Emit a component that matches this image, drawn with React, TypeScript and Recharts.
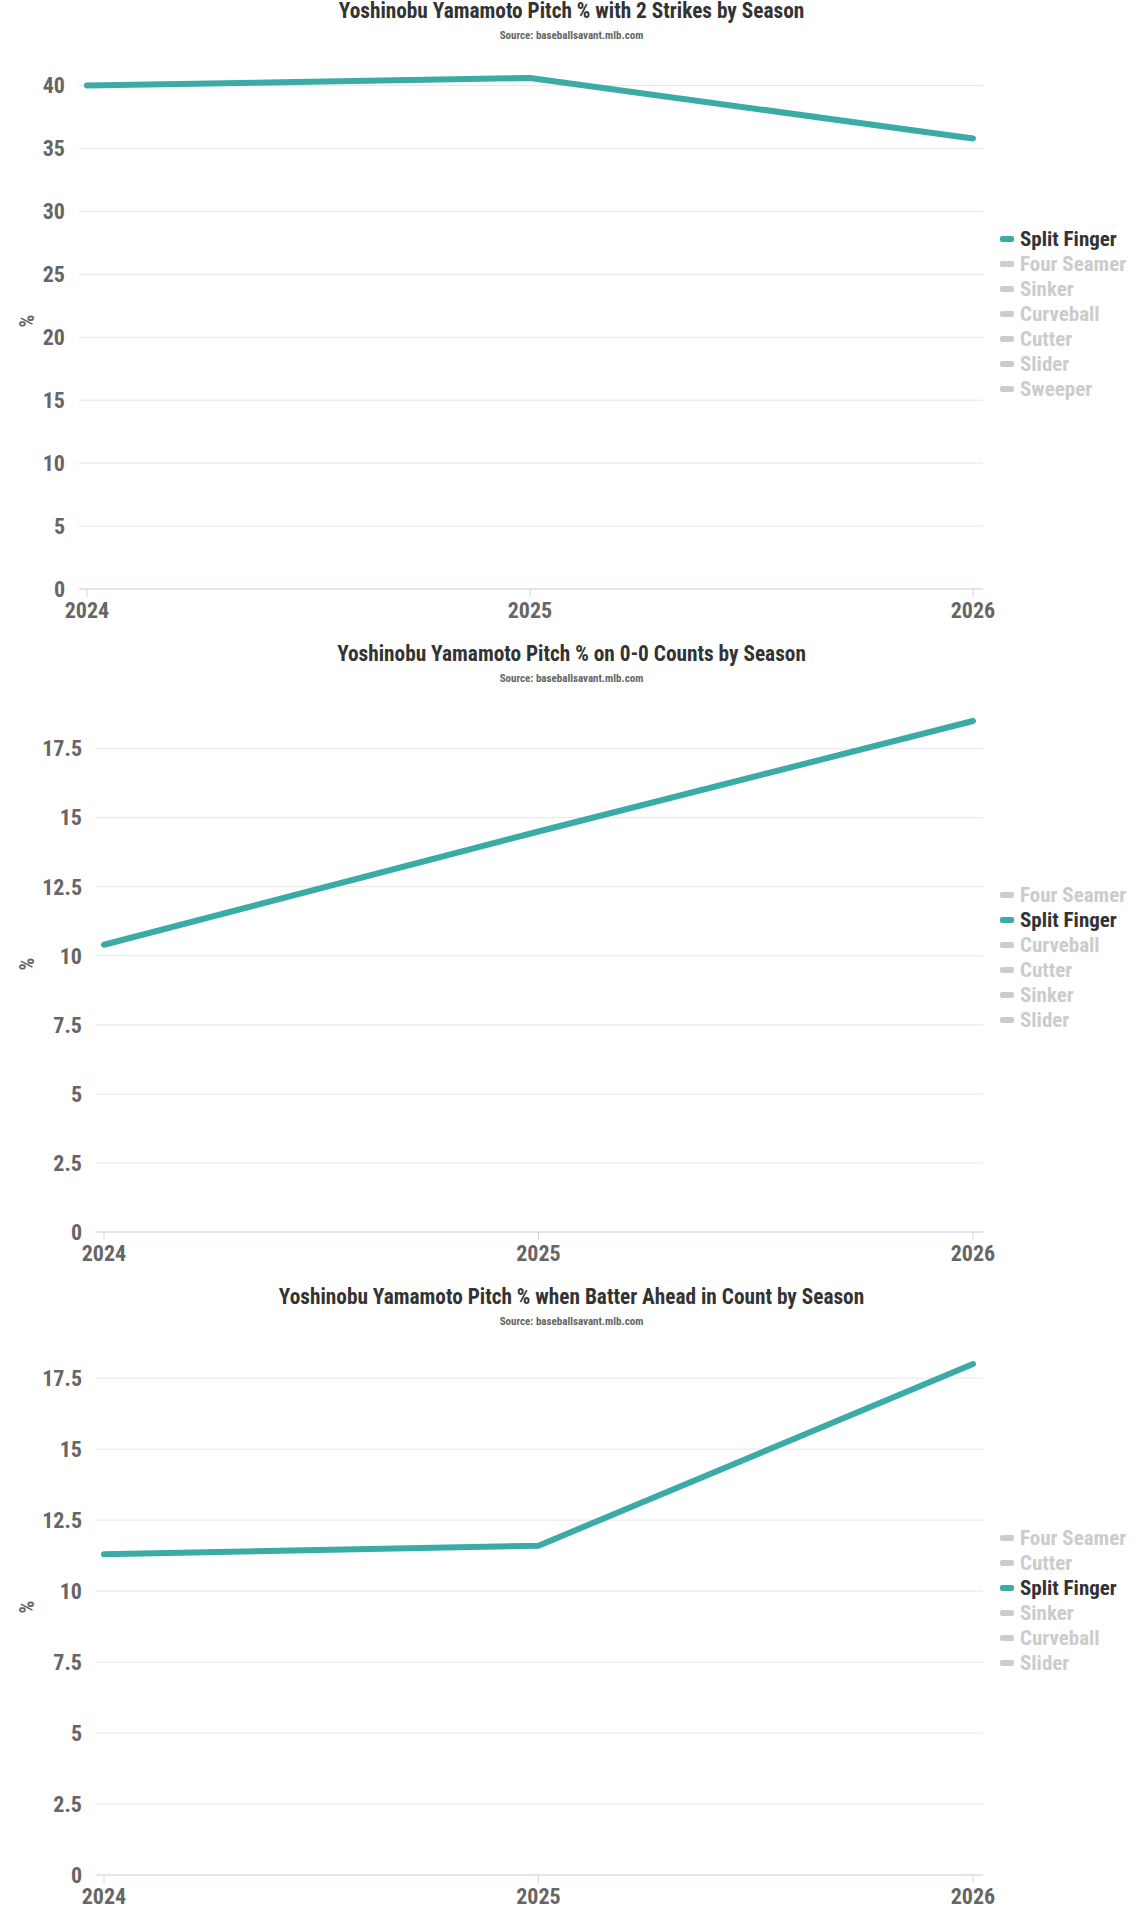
import React from "react";
import { LineChart, Line, XAxis, YAxis, CartesianGrid } from "recharts";

// seasons on the x axis
const seasons = ["2024", "2025", "2026"];

// Split Finger usage, % of pitches
const twoStrikeSplit = [40.0, 40.6, 35.8];
const firstPitchSplit = [10.4, 14.5, 18.5];
const batterAheadSplit = [11.3, 11.6, 18.0];

// y axis ticks
const twoStrikeTicks = [0, 5, 10, 15, 20, 25, 30, 35, 40];
const countTicks = [0, 2.5, 5, 7.5, 10, 12.5, 15, 17.5];

// legend order per chart (only Split Finger is shown)
const twoStrikeLegend = ["Split Finger", "Four Seamer", "Sinker", "Curveball", "Cutter", "Slider", "Sweeper"];
const firstPitchLegend = ["Four Seamer", "Split Finger", "Curveball", "Cutter", "Sinker", "Slider"];
const batterAheadLegend = ["Four Seamer", "Cutter", "Split Finger", "Sinker", "Curveball", "Slider"];

const ACTIVE = "Split Finger";
const TEAL = "#3aaba5";
const FONT = "'Roboto Condensed', 'Liberation Sans Narrow', 'DejaVu Sans Condensed', sans-serif";

const W = 1143;

interface PitchChartProps {
  title: string;
  values: number[];
  ticks: number[];
  legend: string[];
  axisWidth: number;
  height: number;
}

function PitchChart({ title, values, ticks, legend, axisWidth, height }: PitchChartProps) {
  const data = seasons.map((s, i) => ({ season: s, value: values[i] }));
  const top = 78;
  const plotH = 511;
  const xAxisH = 40;

  return (
    <div style={{ position: "relative", width: W, height }}>
      <div
        style={{
          position: "absolute",
          top: 0,
          left: 0,
          width: W,
          textAlign: "center",
          fontFamily: FONT,
          fontWeight: 700,
          fontSize: 21.3,
          lineHeight: "22px",
          color: "#333",
        }}
      >
        {title}
      </div>
      <div
        style={{
          position: "absolute",
          top: 30,
          left: 0,
          width: W,
          textAlign: "center",
          fontFamily: FONT,
          fontWeight: 700,
          fontSize: 11,
          lineHeight: "12px",
          color: "#666",
        }}
      >
        Source: baseballsavant.mlb.com
      </div>
      <div
        style={{
          position: "absolute",
          left: 27,
          top: 321,
          transform: "translate(-50%, -50%) rotate(-90deg)",
          fontFamily: FONT,
          fontWeight: 700,
          fontSize: 20,
          color: "#666",
        }}
      >
        %
      </div>

      <LineChart
        width={W}
        height={height}
        data={data}
        margin={{ top, right: 160, bottom: height - top - plotH - xAxisH, left: 40 }}
        style={{ position: "absolute", top: 0, left: 0 }}
      >
        <CartesianGrid vertical={false} stroke="#e6e6e6" strokeWidth={1} syncWithTicks />
        <XAxis
          dataKey="season"
          height={xAxisH}
          padding={{ left: 8, right: 10 }}
          stroke="#ccd6eb"
          tickSize={8}
          tickMargin={5}
          tickLine={{ stroke: "#ccd6eb" }}
          tick={{ fill: "#666", fontFamily: FONT, fontWeight: 700, fontSize: 22 }}
          interval={0}
        />
        <YAxis
          width={axisWidth}
          domain={[0, "dataMax"]}
          ticks={ticks}
          interval={0}
          axisLine={false}
          tickLine={false}
          tickSize={0}
          tickMargin={14}
          tick={{ fill: "#666", fontFamily: FONT, fontWeight: 700, fontSize: 22 }}
        />
        <Line
          type="linear"
          dataKey="value"
          stroke={TEAL}
          strokeWidth={6}
          strokeLinecap="round"
          strokeLinejoin="round"
          dot={false}
          activeDot={false}
          isAnimationActive={false}
        />
      </LineChart>

      <div
        style={{
          position: "absolute",
          left: 1000,
          top: 314 - (legend.length * 25) / 2,
          fontFamily: FONT,
          fontWeight: 700,
          fontSize: 21,
        }}
      >
        {legend.map((name) => {
          const on = name === ACTIVE;
          return (
            <div key={name} style={{ display: "flex", alignItems: "center", height: 25 }}>
              <span
                style={{
                  display: "inline-block",
                  width: 14,
                  height: 6,
                  borderRadius: 2,
                  background: on ? TEAL : "#ccc",
                  marginRight: 6,
                }}
              />
              <span style={{ color: on ? "#333" : "#ccc", whiteSpace: "nowrap" }}>{name}</span>
            </div>
          );
        })}
      </div>
    </div>
  );
}

export default function App() {
  return (
    <div style={{ width: W, background: "#fff" }}>
      <style>{"body{margin:0;background:#fff}"}</style>
      <PitchChart
        title="Yoshinobu Yamamoto Pitch % with 2 Strikes by Season"
        values={twoStrikeSplit}
        ticks={twoStrikeTicks}
        legend={twoStrikeLegend}
        axisWidth={39}
        height={643}
      />
      <PitchChart
        title="Yoshinobu Yamamoto Pitch % on 0-0 Counts by Season"
        values={firstPitchSplit}
        ticks={countTicks}
        legend={firstPitchLegend}
        axisWidth={56}
        height={643}
      />
      <PitchChart
        title="Yoshinobu Yamamoto Pitch % when Batter Ahead in Count by Season"
        values={batterAheadSplit}
        ticks={countTicks}
        legend={batterAheadLegend}
        axisWidth={56}
        height={634}
      />
    </div>
  );
}
